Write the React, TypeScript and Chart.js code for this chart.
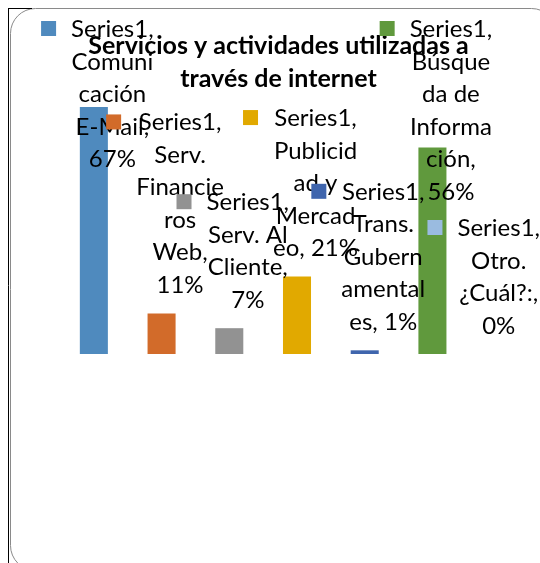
import React, { useEffect, useRef } from "react";
import { Chart, registerables } from "chart.js";

Chart.register(...registerables);

const seriesName = "Series1";
const categories = [
  "Comunicación E-Mail",
  "Serv. Financieros Web",
  "Serv. Al Cliente",
  "Publicidad y Mercadeo",
  "Trans. Gubernamentales",
  "Búsqueda de Información",
  "Otro. ¿Cuál?:",
];
const values = [67, 11, 7, 21, 1, 56, 0];
const barColors = ["#4F8ABE", "#D26B2A", "#929292", "#E1A900", "#3F65AD", "#60993D", "#9ABBE0"];
const labelLines = [
  ["Series1,", "Comuni", "cación", "E-Mail,", "67%"],
  ["Series1,", "Serv.", "Financie", "ros", "Web,", "11%"],
  ["Series1,", "Serv. Al", "Cliente,", "7%"],
  ["Series1,", "Publicid", "ad y", "Mercad", "eo, 21%"],
  ["Series1,", "Trans.", "Gubern", "amental", "es, 1%"],
  ["Series1,", "Búsque", "da de", "Informa", "ción,", "56%"],
  ["Series1,", "Otro.", "¿Cuál?:,", "0%"],
];
const titleLines = ["Servicios y actividades utilizadas a", "través de internet"];

const LABEL_FONT = "24px Lato";
const TITLE_FONT = "bold 25px Lato";

const framePlugin = {
  id: "frameAndTitle",
  beforeDraw(chart: any) {
    const ctx = chart.ctx;
    ctx.save();
    ctx.fillStyle = "#ffffff";
    ctx.fillRect(0, 0, chart.width, chart.height);
    // rounded gray frame
    const x = 10.5, y = 8.5, w = 546, h = 562, r = 25;
    ctx.strokeStyle = "#8a8a8a";
    ctx.lineWidth = 1;
    ctx.beginPath();
    ctx.moveTo(x + r, y);
    ctx.lineTo(x + w - r, y);
    ctx.arcTo(x + w, y, x + w, y + r, r);
    ctx.lineTo(x + w, y + h - r);
    ctx.arcTo(x + w, y + h, x + w - r, y + h, r);
    ctx.lineTo(x + r, y + h);
    ctx.arcTo(x, y + h, x, y + h - r, r);
    ctx.lineTo(x, y + r);
    ctx.arcTo(x, y, x + r, y, r);
    ctx.stroke();
    // black edge lines
    ctx.strokeStyle = "#000000";
    ctx.beginPath();
    ctx.moveTo(8.5, 8);
    ctx.lineTo(8.5, chart.height);
    ctx.moveTo(8, 8.5);
    ctx.lineTo(32, 8.5);
    ctx.stroke();
    // title
    ctx.fillStyle = "#000000";
    ctx.font = TITLE_FONT;
    ctx.textAlign = "center";
    ctx.textBaseline = "alphabetic";
    titleLines.forEach((t, k) => ctx.fillText(t, 278.5, 54 + k * 33));
    ctx.restore();
  },
  afterDatasetsDraw(chart: any) {
    const ctx = chart.ctx;
    const meta = chart.getDatasetMeta(0);
    const LH = 32.5;
    ctx.save();
    ctx.font = LABEL_FONT;
    ctx.textAlign = "center";
    ctx.textBaseline = "alphabetic";
    meta.data.forEach((el: any, i: number) => {
      const lines = labelLines[i];
      const n = lines.length;
      let first = el.y - 20.5 - (n - 1) * LH;
      if (first < 37) first = 37;
      const W = Math.max(...lines.map((s) => ctx.measureText(s).width));
      let left = el.x - (37 + W) / 2;
      if (left + 37 + W > 540) left = 540 - 37 - W;
      ctx.fillStyle = barColors[i];
      ctx.fillRect(left + 7, first - 16, 15, 15);
      ctx.fillStyle = "#000000";
      const cx = left + 37 + W / 2;
      lines.forEach((s, k) => ctx.fillText(s, cx, first + k * LH));
    });
    ctx.restore();
  },
};

export default function App() {
  const ref = useRef<HTMLCanvasElement>(null);
  useEffect(() => {
    document.body.style.margin = "0";
    const chart = new Chart(ref.current!, {
      type: "bar",
      data: {
        labels: categories,
        datasets: [
          {
            label: seriesName,
            data: values,
            backgroundColor: barColors,
            borderWidth: 0,
            barPercentage: 0.414,
            categoryPercentage: 1,
          },
        ],
      },
      options: {
        responsive: false,
        animation: false,
        devicePixelRatio: 1,
        layout: { padding: { left: 60, right: 6, top: 59, bottom: 209 } },
        scales: {
          x: { display: false },
          y: { display: false, min: 0, max: 80 },
        },
        plugins: { legend: { display: false }, title: { display: false }, tooltip: { enabled: false } },
      },
      plugins: [framePlugin],
    });
    (document as any).fonts?.ready?.then(() => chart.draw());
    return () => chart.destroy();
  }, []);
  return (
    <div style={{ position: "absolute", left: 0, top: 0, width: 540, height: 563 }}>
      <canvas ref={ref} width={540} height={563} />
    </div>
  );
}
